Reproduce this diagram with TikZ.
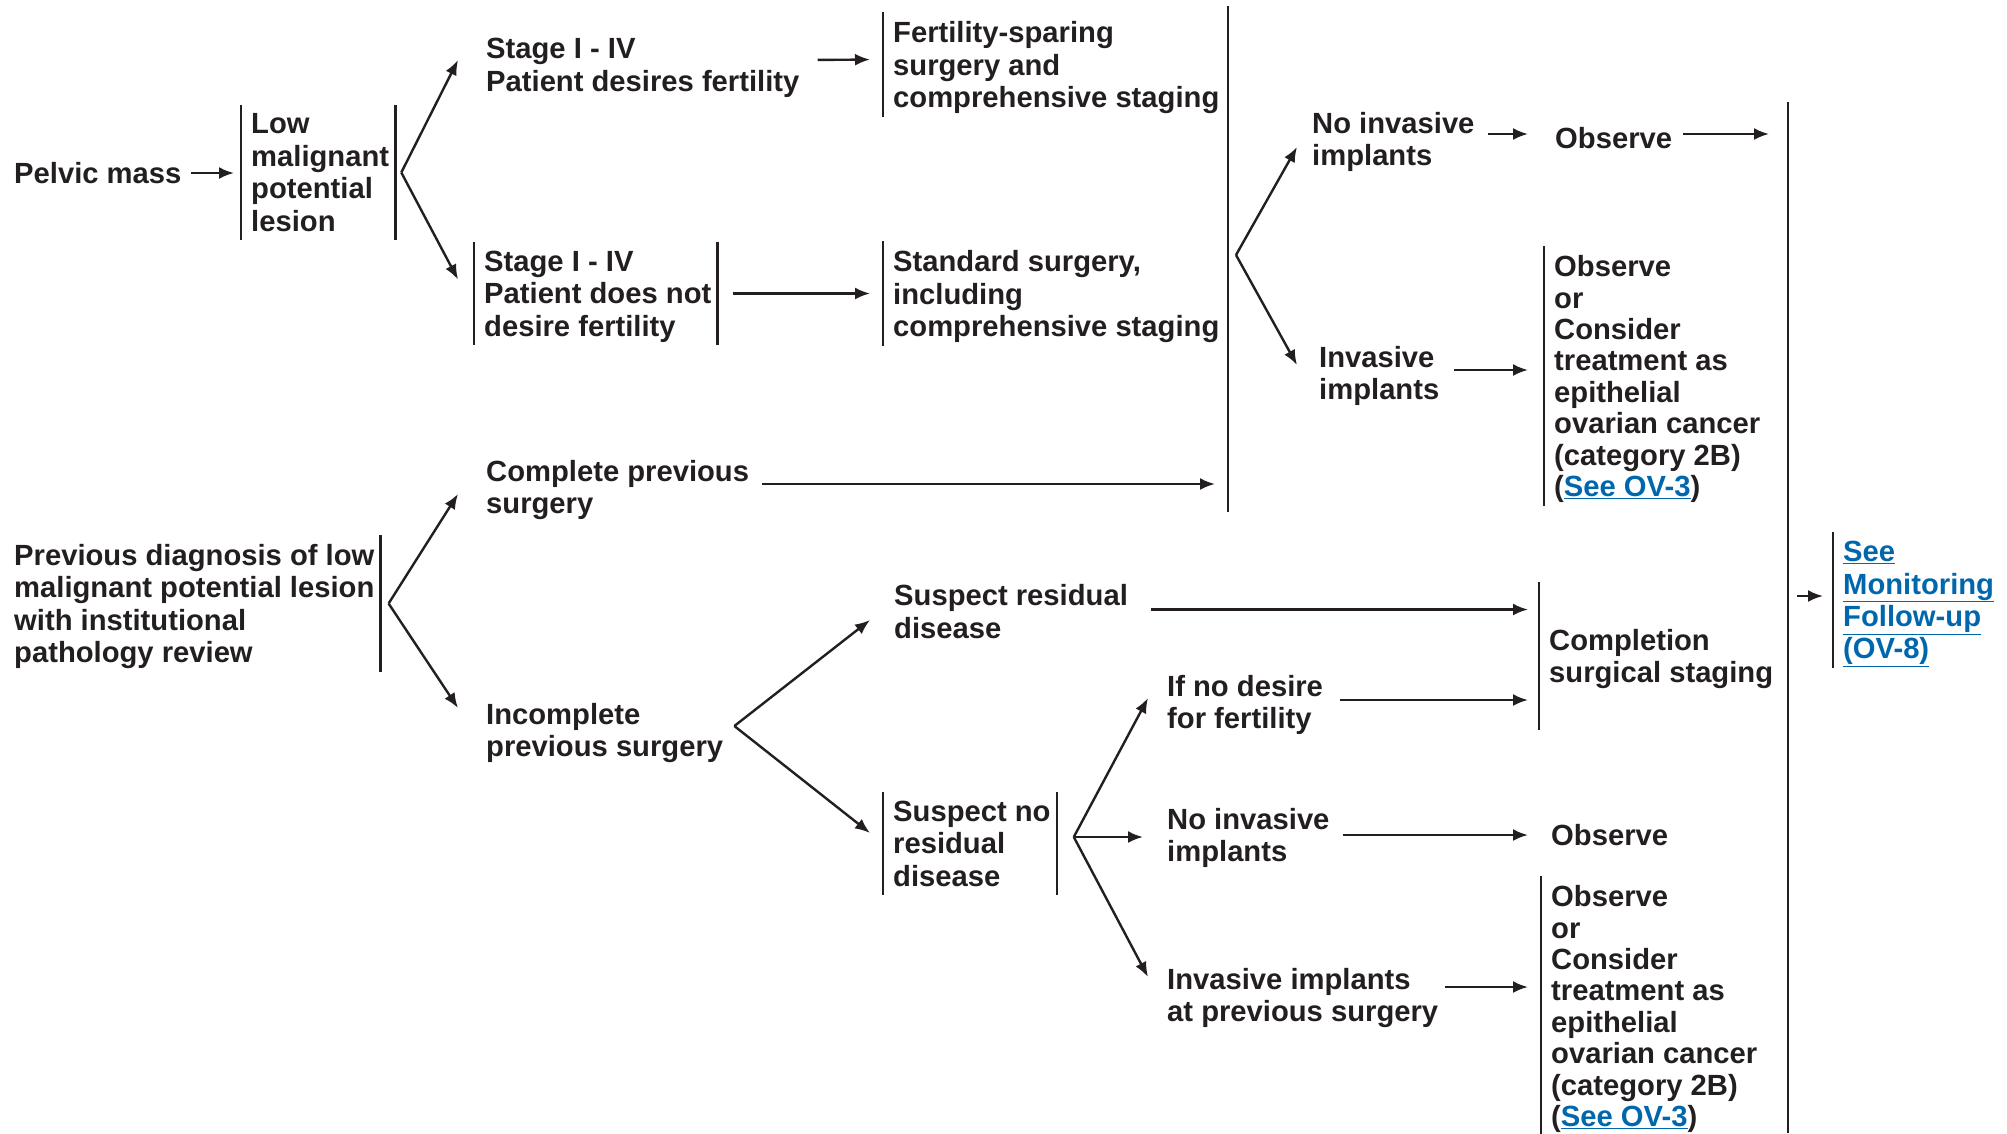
\documentclass[tikz,border=0pt]{standalone}
\usepackage{fontspec}
\setmainfont{Liberation Sans}
\usetikzlibrary{arrows.meta}
\definecolor{ink}{RGB}{35,31,32}
\definecolor{linkblue}{RGB}{0,103,172}
\newcommand\chartfont{\fontsize{29.2}{32.4}\selectfont\bfseries}
\newcommand\tightfont{\fontsize{29.2}{31.4}\selectfont\bfseries}
\newcommand\lnk[1]{\textcolor{linkblue}{\underline{#1}}}
\tikzset{
  lbl/.style={font=\chartfont, align=left, anchor=west, inner sep=0pt, text depth=0pt},
  bx/.style={lbl, inner xsep=9pt, inner ysep=8pt},
  tight/.style={font=\tightfont},
}

\begin{document}
\begin{tikzpicture}[x=1pt,y=-1pt,>={Latex[length=15pt,width=12pt]},line width=2.4pt,color=ink]
  \useasboundingbox (0,0) rectangle (2007,1133);
  % entry points
  \node[lbl] (pelvic) at (13,173) {Pelvic mass};
  \node[bx] (lmp) at (241,172.5) {Low\\malignant\\potential\\lesion};
  \node[bx] (prevdiag) at (4,603.5) {Previous diagnosis of low\\malignant potential lesion\\with institutional\\pathology review};
  \node[lbl] (sfert) at (485,65) {Stage I - IV\\Patient desires fertility};
  \node[bx] (snofert) at (474,293.5) {Stage I - IV\\Patient does not\\desire fertility};
  \node[lbl] (complete) at (485,487) {Complete previous\\surgery};
  \node[lbl] (incomplete) at (485,730) {Incomplete\\previous surgery};
  % surgery
  \node[bx] (fsparing) at (883,64.5) {Fertility-sparing\\surgery and\\comprehensive staging};
  \node[bx] (standard) at (883,293.5) {Standard surgery,\\including\\comprehensive staging};
  \node[lbl] (resid) at (893,611.5) {Suspect residual\\disease};
  \node[bx] (noresid) at (883,843.5) {Suspect no\\residual\\disease};
  % findings
  \node[lbl] (noinv1) at (1311,139) {No invasive\\implants};
  \node[lbl] (inv1) at (1318,373) {Invasive\\implants};
  \node[lbl] (nodesire) at (1166,702) {If no desire\\for fertility};
  \node[lbl] (noinv2) at (1166,835) {No invasive\\implants};
  \node[lbl] (invprev) at (1166,995) {Invasive implants\\at previous surgery};
  % treatment
  \node[lbl] (obs1) at (1554,138) {Observe};
  \node[bx,tight] (obsor1) at (1544,376) {Observe\\or\\Consider\\treatment as\\epithelial\\ovarian cancer\\(category 2B)\\(\lnk{See OV-3})};
  \node[bx,inner ysep=46pt] (completion) at (1539,656) {Completion\\surgical staging};
  \node[lbl] (obs2) at (1550,835) {Observe};
  \node[bx,tight] (obsor2) at (1541,1006) {Observe\\or\\Consider\\treatment as\\epithelial\\ovarian cancer\\(category 2B)\\(\lnk{See OV-3})};
  \node[bx] (monitor) at (1833,600) {\lnk{See}\\\lnk{Monitoring}\\\lnk{Follow-up}\\\lnk{(OV-8)}};

  \coordinate (atop) at (1228,6);  \coordinate (abot) at (1228,512);
  \coordinate (btop) at (1788,102); \coordinate (bbot) at (1788,1133);
  \coordinate (fa) at (1236,255);
  \coordinate (f1) at ([xshift=2pt]lmp.east);
  \coordinate (f2) at ([xshift=4pt]prevdiag.east);
  \coordinate (f3) at ([shift={(10,-4)}]incomplete.east);
  \coordinate (f4) at ([shift={(13,-6.5)}]noresid.east);

  % bars
  \draw (lmp.north west) -- (lmp.south west) ([xshift=-4pt]lmp.north east) -- ([xshift=-4pt]lmp.south east);
  \draw ([xshift=-4pt]prevdiag.north east) -- ([xshift=-4pt]prevdiag.south east);
  \draw (snofert.north west) -- (snofert.south west) ([xshift=-4pt]snofert.north east) -- ([xshift=-4pt]snofert.south east);
  \draw (fsparing.north west) -- (fsparing.south west);
  \draw (standard.north west) -- (standard.south west);
  \draw (noresid.north west) -- (noresid.south west) ([xshift=-4pt]noresid.north east) -- ([xshift=-4pt]noresid.south east);
  \draw (obsor1.north west) -- (obsor1.south west);
  \draw (completion.north west) -- (completion.south west);
  \draw (obsor2.north west) -- (obsor2.south west);
  \draw (monitor.north west) -- (monitor.south west);
  \draw (atop) -- (abot);
  \draw (btop) -- (bbot);

  % arrows
  \draw[->,shorten <=8pt,shorten >=7pt] (pelvic.east) -- (pelvic.east -| lmp.west);
  \draw[->] (f1) -- ([shift={(-27,-5)}]sfert.west);
  \draw[->] (f1) -- ([shift={(-16,-14)}]snofert.west);
  \draw[->,shorten <=17pt,shorten >=13pt] ([yshift=5pt]sfert.east) -- ([yshift=5pt]fsparing.west);
  \draw[->,shorten <=11pt,shorten >=13pt] (snofert.east) -- (standard.west);
  \draw[->,shorten <=12pt,shorten >=13pt] ([yshift=3pt]complete.east) -- ([yshift=3pt]complete.east -| atop);
  \draw[->] (f2) -- ([shift={(-27,7)}]complete.west);
  \draw[->] (f2) -- ([shift={(-27,-22)}]incomplete.west);
  \draw[->] (f3) -- ([shift={(-23,8.5)}]resid.west);
  \draw[->] (f3) -- ([shift={(-13,-10.5)}]noresid.west);
  \draw[->,shorten <=22pt,shorten >=11pt] ([yshift=2pt]resid.east) -- ([yshift=2pt]resid.east -| completion.west);
  \draw[->] (f4) -- ([shift={(-18,-4)}]nodesire.west);
  \draw[->] (f4) -- ([shift={(-23,2)}]noinv2.west);
  \draw[->] (f4) -- ([shift={(-18,-18)}]invprev.west);
  \draw[->,shorten <=16pt,shorten >=11pt] ([yshift=2pt]nodesire.east) -- ([yshift=2pt]nodesire.east -| completion.west);
  \draw[->,shorten <=12pt,shorten >=22pt] (noinv2.east) -- (obs2.west);
  \draw[->,shorten <=6pt,shorten >=13pt] ([yshift=8pt]invprev.east) -- ([yshift=8pt]invprev.east -| obsor2.west);
  \draw[->] (fa) -- ([shift={(-14,8)}]noinv1.west);
  \draw[->] (fa) -- ([shift={(-21,-8)}]inv1.west);
  \draw[->,shorten <=12pt,shorten >=26pt] ([yshift=5pt]noinv1.east) -- ([yshift=5pt]noinv1.east -| obs1.west);
  \draw[->,shorten <=10pt,shorten >=19pt] ([yshift=4pt]obs1.east) -- ([yshift=4pt]obs1.east -| btop);
  \draw[->,shorten <=14pt,shorten >=16pt] ([yshift=3pt]inv1.east) -- ([yshift=3pt]inv1.east -| obsor1.west);
  \draw[->,shorten <=9pt,shorten >=10pt] ([yshift=4pt]monitor.west -| btop) -- ([yshift=4pt]monitor.west);
\end{tikzpicture}
\end{document}
